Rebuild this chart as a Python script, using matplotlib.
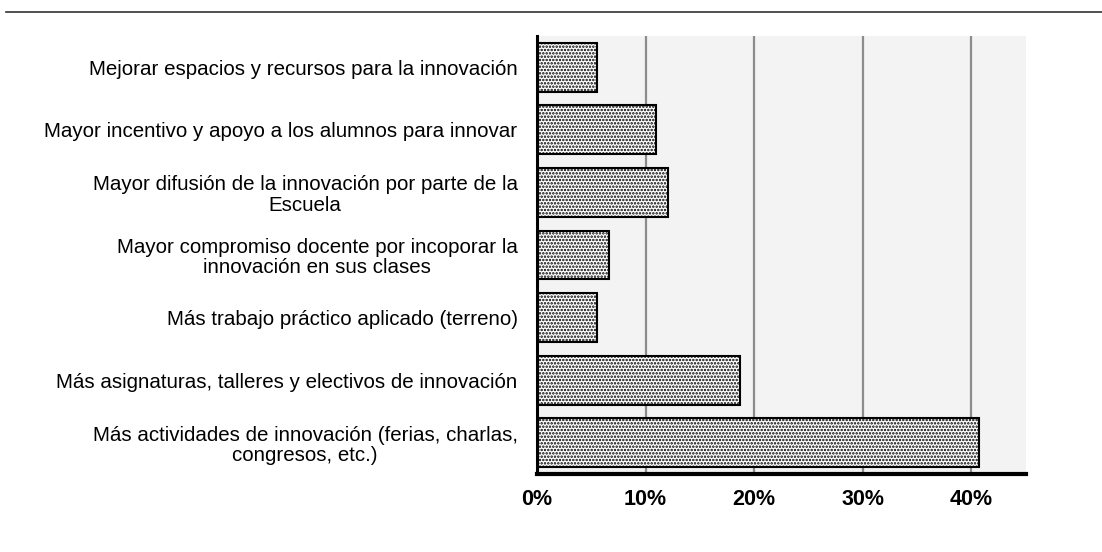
import matplotlib.pyplot as plt
from matplotlib.lines import Line2D
from matplotlib.ticker import FuncFormatter

plt.rcParams['font.family'] = ['Liberation Sans', 'DejaVu Sans']
plt.rcParams['hatch.linewidth'] = 1.2

# categories listed top to bottom as in the chart
categories = [
    "Mejorar espacios y recursos para la innovación",
    "Mayor incentivo y apoyo a los alumnos para innovar",
    "Mayor difusión de la innovación por parte de la\nEscuela",
    "Mayor compromiso docente por incoporar la\ninnovación en sus clases",
    "Más trabajo práctico aplicado (terreno)",
    "Más asignaturas, talleres y electivos de innovación",
    "Más actividades de innovación (ferias, charlas,\ncongresos, etc.)",
]
values = [5.5, 11.0, 12.1, 6.6, 5.5, 18.7, 40.7]
xticks = [0, 10, 20, 30, 40]

fig = plt.figure(figsize=(11.02, 5.52), dpi=100)
ax = fig.add_axes([0.4873, 0.1413, 0.4435, 0.7935])
ax.set_facecolor('#f3f3f3')

pos = list(range(len(categories)))[::-1]
ax.barh(pos, values, height=0.78, color='white', edgecolor='black',
        linewidth=1.5, hatch='.....', zorder=3)

ax.set_xlim(0, 45)
ax.set_ylim(-0.5, len(categories) - 0.5)
ax.set_xticks(xticks)
ax.xaxis.set_major_formatter(FuncFormatter(lambda v, p: f'{v:.0f}%'))
ax.grid(axis='x', color='#8c8c8c', linewidth=1.6, zorder=0)
ax.set_yticks(pos)
ax.set_yticklabels(categories, fontsize=14.8)
for t in ax.get_yticklabels():
    t.set_multialignment('center')
    t.set_linespacing(1.08)

for t in ax.get_xticklabels():
    t.set_fontweight('bold')
    t.set_fontsize(15.5)

ax.tick_params(axis='y', length=0, pad=14)
ax.tick_params(axis='x', length=0, pad=11)

for s in ['top', 'right']:
    ax.spines[s].set_visible(False)
ax.spines['left'].set_linewidth(2.2)
ax.spines['bottom'].set_linewidth(3)
ax.spines['left'].set_zorder(4)
ax.spines['bottom'].set_zorder(4)

# thin rule across the top of the figure
fig.add_artist(Line2D([0.005, 1.0], [0.978, 0.978], color='#333333',
                      linewidth=1.2, transform=fig.transFigure))

fig.savefig('out.png', dpi=100)
